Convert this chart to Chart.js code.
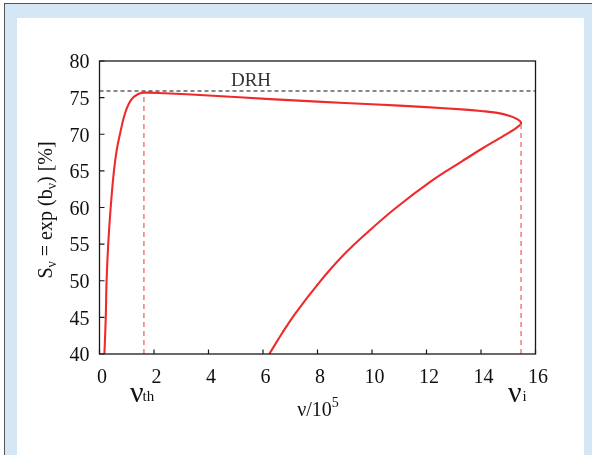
<!DOCTYPE html>
<html><head><meta charset="utf-8">
<script src="https://cdn.jsdelivr.net/npm/chart.js@4.4.1/dist/chart.umd.min.js"></script>
<style>
html,body{margin:0;padding:0;width:592px;height:455px;overflow:hidden;background:#fff;}
#frame{position:absolute;left:4px;top:3px;width:588px;height:452px;background:#d5e7f5;border-left:1px solid #555;border-top:1px solid #555;box-sizing:border-box;}
#panel{position:absolute;left:17px;top:18px;width:567px;height:437px;background:#fff;}
canvas{position:absolute;left:0;top:0;}
</style></head><body>
<div id="frame"></div><div id="panel"></div>
<canvas id="c" width="592" height="455"></canvas>
<script>
// Curve S_v vs v/10^5 (traced in order along the path: rising branch, upper branch, tip, lower branch)
const curveX = [0.18,0.23,0.26,0.32,0.41,0.53,0.63,0.75,0.94,1.16,1.42,1.67,2.4,4,6.26,8,10,12,13.3,14.0,14.6,15.06,15.31,15.47,15.31,15.06,14.7,14.0,13.3,12.2,10.86,9.82,8.9,8.04,7.19,6.7,6.23];
const curveY = [40,45,50,55,60,65,67.8,70,72.9,74.7,75.5,75.68,75.6,75.3,74.8,74.45,74.1,73.7,73.4,73.18,72.92,72.5,72.1,71.55,70.9,70.3,69.5,67.95,66.3,63.66,59.9,56.56,53.3,49.65,45.56,42.83,40];
const drhLevel = 75.9;
const nuThX = 1.63, nuThTop = 75.68;
const nuIX = 15.47, nuITop = 71.55;
const xTickValues = [0,2,4,6,8,10,12,14,16];
const yTickValues = [40,45,50,55,60,65,70,75,80];
const xRange = [0,16], yRange = [40,80];

const curveData = curveX.map((x,i)=>({x, y: curveY[i]}));
const SERIF = "'Liberation Serif', 'Times New Roman', serif";

function drawRich(ctx, segs, x, y, align) {
  let w = 0;
  segs.forEach(s => { ctx.font = s.size + 'px ' + SERIF; s.w = ctx.measureText(s.t).width + (s.kern||0); w += s.w; });
  let cx = align === 'left' ? x : x - w/2;
  ctx.textAlign = 'left'; ctx.textBaseline = 'alphabetic';
  segs.forEach(s => { ctx.font = s.size + 'px ' + SERIF; ctx.fillText(s.t, cx, y + (s.dy||0)); cx += s.w; });
}

const deco = {
  id: 'deco',
  afterDraw(chart) {
    const ctx = chart.ctx, a = chart.chartArea;
    const xs = chart.scales.x, ys = chart.scales.y;
    ctx.save();
    ctx.strokeStyle = '#1a1a1a'; ctx.lineWidth = 1.3; ctx.setLineDash([]);
    ctx.strokeRect(a.left, a.top, a.right - a.left, a.bottom - a.top);
    ctx.lineWidth = 1.2;
    ctx.beginPath();
    xTickValues.forEach(v => { const px = xs.getPixelForValue(v); ctx.moveTo(px, a.bottom); ctx.lineTo(px, a.bottom - 4.5); });
    yTickValues.forEach(v => { const py = ys.getPixelForValue(v); ctx.moveTo(a.left, py); ctx.lineTo(a.left + 5, py); });
    ctx.stroke();
    ctx.font = '19px ' + SERIF; ctx.textAlign = 'center'; ctx.textBaseline = 'alphabetic';
    ctx.fillStyle = '#333';
    ctx.fillText('DRH', xs.getPixelForValue(5.56), ys.getPixelForValue(drhLevel) - 5);
    ctx.fillStyle = '#111';
    drawRich(ctx, [{t:'\u03BD', size:30, kern:-1}, {t:'th', size:15, dy:-1}], xs.getPixelForValue(nuThX) - 14, 402, 'left');
    drawRich(ctx, [{t:'\u03BD', size:30, kern:1}, {t:'i', size:15, dy:-1}], xs.getPixelForValue(nuIX) - 13, 402, 'left');
    drawRich(ctx, [{t:'\u03BD/10', size:20}, {t:'5', size:14, dy:-9}], 318, 416);
    ctx.translate(52, 210);
    ctx.rotate(-Math.PI/2);
    drawRich(ctx, [
      {t:'S', size:20}, {t:'\u03BD', size:14, dy:4},
      {t:' = exp (b', size:20}, {t:'\u03BD', size:14, dy:4},
      {t:') [%]', size:20}
    ], 0, 0);
    ctx.restore();
  }
};

new Chart(document.getElementById('c'), {
  type: 'scatter',
  data: {
    datasets: [
      { data: [{x:xRange[0], y:drhLevel},{x:xRange[1], y:drhLevel}], showLine:true, borderColor:'#111', borderWidth:1.1, borderDash:[4,3], pointRadius:0, tension:0 },
      { data: [{x:nuThX, y:yRange[0]},{x:nuThX, y:nuThTop}], showLine:true, borderColor:'#f07070', borderWidth:1.4, borderDash:[5,4], pointRadius:0, tension:0 },
      { data: [{x:nuIX, y:yRange[0]},{x:nuIX, y:nuITop}], showLine:true, borderColor:'#f07070', borderWidth:1.4, borderDash:[5,4], pointRadius:0, tension:0 },
      { data: curveData, showLine:true, borderColor:'#ee2a2a', borderWidth:2.1, pointRadius:0, tension:0.4, fill:false }
    ]
  },
  options: {
    responsive:false, animation:false, devicePixelRatio:1,
    layout:{ padding:{ top:61, right:56.5, left:0, bottom:0 } },
    plugins:{ legend:{display:false}, tooltip:{enabled:false} },
    scales:{
      x:{ type:'linear', min:xRange[0], max:xRange[1],
          afterFit(s){ s.height = 101; },
          afterBuildTicks(s){ s.ticks = xTickValues.map(v=>({value:v})); },
          grid:{ display:false, drawTicks:false }, border:{ display:false },
          ticks:{ font:{ family:SERIF, size:20 }, color:'#111', padding:12, labelOffset:2.5, maxRotation:0 } },
      y:{ type:'linear', min:yRange[0], max:yRange[1],
          afterFit(s){ s.width = 99.5; },
          afterBuildTicks(s){ s.ticks = yTickValues.map(v=>({value:v})); },
          grid:{ display:false, drawTicks:false }, border:{ display:false },
          ticks:{ font:{ family:SERIF, size:20 }, color:'#111', padding:10, labelOffset:2 } }
    }
  },
  plugins:[deco]
});
</script>
</body></html>
